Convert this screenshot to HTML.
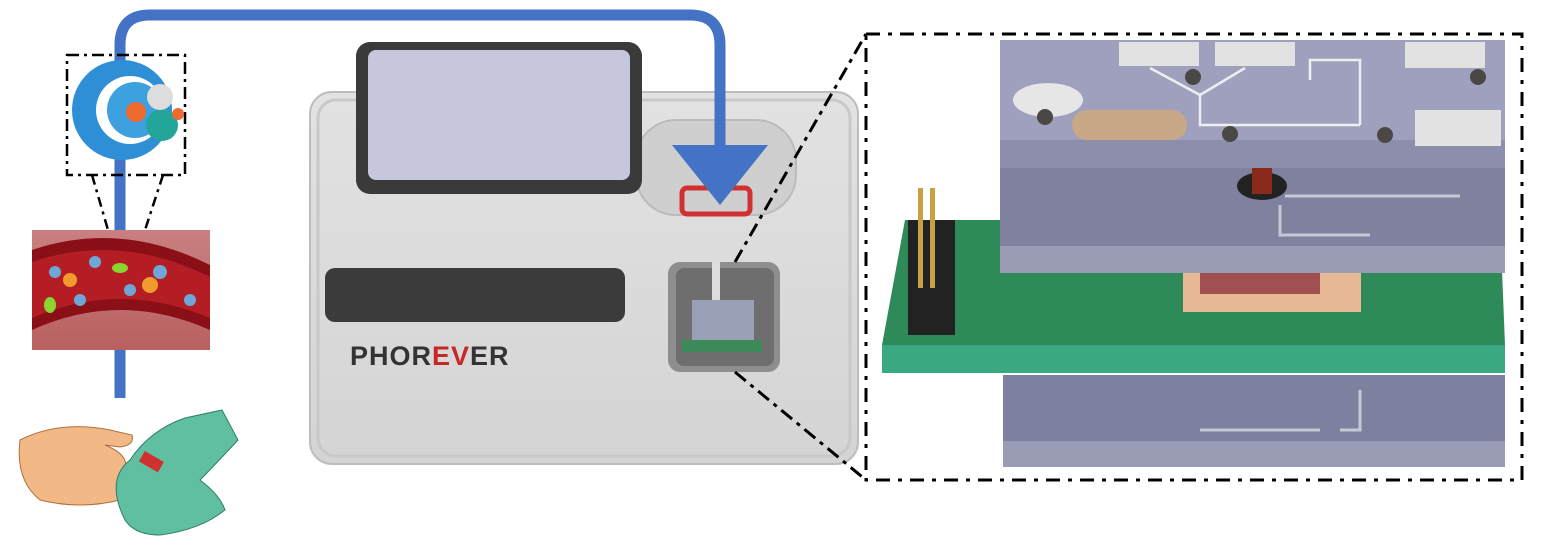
<!DOCTYPE html>
<html><head><style>
html,body{margin:0;padding:0;background:#fff;width:1542px;height:559px;overflow:hidden}
svg{display:block}
</style></head><body>
<svg width="1542" height="559" viewBox="0 0 1542 559" xmlns="http://www.w3.org/2000/svg">
<defs>
<linearGradient id="body" x1="0" y1="0" x2="0" y2="1"><stop offset="0" stop-color="#e2e2e2"/><stop offset="1" stop-color="#d4d4d4"/></linearGradient>
<linearGradient id="vessel" x1="0" y1="0" x2="0" y2="1"><stop offset="0" stop-color="#c98080"/><stop offset="1" stop-color="#b96060"/></linearGradient>
</defs>
<!-- device body -->
<rect x="310" y="92" width="548" height="372" rx="22" fill="url(#body)" stroke="#bdbdbd" stroke-width="2"/>
<rect x="318" y="100" width="532" height="356" rx="18" fill="none" stroke="#c8c8c8" stroke-width="3"/>
<!-- top cup -->
<rect x="636" y="120" width="160" height="95" rx="40" fill="#cfcfcf" stroke="#bbb" stroke-width="2"/>
<rect x="682" y="188" width="68" height="26" rx="5" fill="none" stroke="#d03030" stroke-width="5"/>
<!-- screen -->
<rect x="356" y="42" width="286" height="152" rx="14" fill="#3a3a3a"/>
<rect x="368" y="50" width="262" height="130" rx="8" fill="#c6c7dc"/>
<!-- dark bar -->
<rect x="325" y="268" width="300" height="54" rx="10" fill="#3b3b3b"/>
<text x="350" y="365" font-family="Liberation Sans, sans-serif" font-weight="bold" font-size="27" fill="#333" letter-spacing="1">PHOR<tspan fill="#c62828">EV</tspan>ER</text>
<!-- window -->
<rect x="668" y="262" width="112" height="110" rx="12" fill="#8e8e8e"/>
<rect x="676" y="268" width="98" height="98" rx="8" fill="#6e6e6e"/>
<rect x="712" y="262" width="8" height="45" fill="#ddd"/>
<rect x="692" y="300" width="62" height="52" fill="#9aa0b5"/>
<rect x="682" y="340" width="80" height="12" fill="#3c8a5a"/>
<!-- blue arrow -->
<path d="M120 398 V45 Q120 15 150 15 H690 Q720 15 720 45 V148" fill="none" stroke="#4472c4" stroke-width="11"/>
<polygon points="672,145 768,145 720,205" fill="#4472c4"/>
<!-- left dashed box -->
<rect x="67" y="55" width="118" height="120" fill="none" stroke="#000" stroke-width="2.5" stroke-dasharray="12 5 3 5"/>
<circle cx="122" cy="110" r="50" fill="#2f8fd6"/>
<circle cx="130" cy="110" r="34" fill="#fff"/>
<circle cx="135" cy="110" r="28" fill="#3da1e0"/>
<circle cx="162" cy="125" r="16" fill="#24a59a"/>
<circle cx="160" cy="97" r="13" fill="#ddd"/>
<circle cx="136" cy="112" r="10" fill="#ee6a2e"/>
<circle cx="178" cy="114" r="6" fill="#ee6a2e"/>
<line x1="92" y1="175" x2="108" y2="230" stroke="#000" stroke-width="2.5" stroke-dasharray="10 5 3 5"/>
<line x1="163" y1="175" x2="145" y2="230" stroke="#000" stroke-width="2.5" stroke-dasharray="10 5 3 5"/>
<!-- vessel -->
<rect x="32" y="230" width="178" height="120" fill="url(#vessel)"/>
<path d="M32 250 Q120 220 210 265 V330 Q120 290 32 330 Z" fill="#8a0f17"/>
<path d="M32 262 Q120 232 210 277 V318 Q120 280 32 318 Z" fill="#b51d25"/>
<g fill="#6fa6d8"><circle cx="55" cy="272" r="6"/><circle cx="95" cy="262" r="6"/><circle cx="160" cy="272" r="7"/><circle cx="80" cy="300" r="6"/><circle cx="190" cy="300" r="6"/><circle cx="130" cy="290" r="6"/></g>
<g fill="#f29a2e"><circle cx="70" cy="280" r="7"/><circle cx="150" cy="285" r="8"/></g>
<ellipse cx="50" cy="305" rx="6" ry="8" fill="#8ad530"/><ellipse cx="120" cy="268" rx="8" ry="5" fill="#8ad530"/>
<!-- hands -->
<path d="M20 440 Q60 420 110 430 L132 435 Q135 445 120 447 L105 445 Q130 455 125 470 L120 500 Q80 510 40 500 Q15 480 20 440 Z" fill="#f2b886" stroke="#b07040" stroke-width="1"/>
<path d="M125 520 Q105 480 130 460 Q150 430 185 418 L222 410 L238 440 Q210 470 200 480 Q220 495 225 510 Q200 530 160 535 Q135 535 125 520 Z" fill="#5fbfa0" stroke="#2f7f6a" stroke-width="1"/>
<rect x="145" y="452" width="12" height="22" fill="#d03030" transform="rotate(-60 150 462)"/>
<!-- connector dashes to right -->
<line x1="735" y1="262" x2="866" y2="34" stroke="#000" stroke-width="3" stroke-dasharray="14 6 4 6"/>
<line x1="735" y1="372" x2="866" y2="480" stroke="#000" stroke-width="3" stroke-dasharray="14 6 4 6"/>
<rect x="866" y="34" width="656" height="446" fill="none" stroke="#000" stroke-width="3" stroke-dasharray="14 8 4 8"/>
<!-- bottom plate -->
<rect x="1003" y="375" width="502" height="66" fill="#7e80a0"/>
<rect x="1003" y="441" width="502" height="26" fill="#9a9cb6"/>
<path d="M1200 430 H1320 M1360 390 V430 H1340" stroke="#c7c8d6" stroke-width="3" fill="none"/>
<!-- pcb -->
<polygon points="905,220 1500,220 1505,345 882,345" fill="#2f8a5a"/>
<rect x="882" y="345" width="623" height="28" fill="#3aa880"/>
<rect x="1183" y="272" width="178" height="40" fill="#e6b896"/>
<rect x="1200" y="268" width="120" height="26" fill="#a05050"/>
<rect x="908" y="220" width="47" height="115" fill="#222"/>
<rect x="918" y="188" width="5" height="100" fill="#c9a043"/><rect x="930" y="188" width="5" height="100" fill="#c9a043"/>
<!-- middle plate -->
<rect x="1000" y="168" width="505" height="78" fill="#7f819f"/>
<rect x="1000" y="246" width="505" height="27" fill="#9a9cb6"/>
<ellipse cx="1262" cy="186" rx="25" ry="14" fill="#222"/>
<rect x="1252" y="168" width="20" height="26" fill="#8a2a1a"/>
<path d="M1285 196 H1460 M1280 205 V235 H1370" stroke="#c7c8d6" stroke-width="3" fill="none"/>
<!-- top plate -->
<rect x="1000" y="40" width="505" height="100" fill="#9ea0bd"/>
<rect x="1000" y="140" width="505" height="28" fill="#8c8eab"/>
<rect x="1119" y="42" width="80" height="24" fill="#e2e2e2"/>
<rect x="1215" y="42" width="80" height="24" fill="#e2e2e2"/>
<rect x="1405" y="42" width="80" height="26" fill="#e2e2e2"/>
<rect x="1415" y="110" width="86" height="36" fill="#e2e2e2"/>
<ellipse cx="1048" cy="100" rx="35" ry="17" fill="#e6e6e6"/>
<rect x="1072" y="110" width="115" height="30" rx="15" fill="#c9a887"/>
<path d="M1150 68 L1200 95 L1245 68 M1200 95 V125 H1360 M1360 125 V60 H1310 V80" stroke="#eee" stroke-width="2.5" fill="none"/>
<g fill="#4a4744"><circle cx="1045" cy="117" r="8"/><circle cx="1193" cy="77" r="8"/><circle cx="1230" cy="134" r="8"/><circle cx="1385" cy="135" r="8"/><circle cx="1478" cy="77" r="8"/></g>
</svg>
</body></html>
